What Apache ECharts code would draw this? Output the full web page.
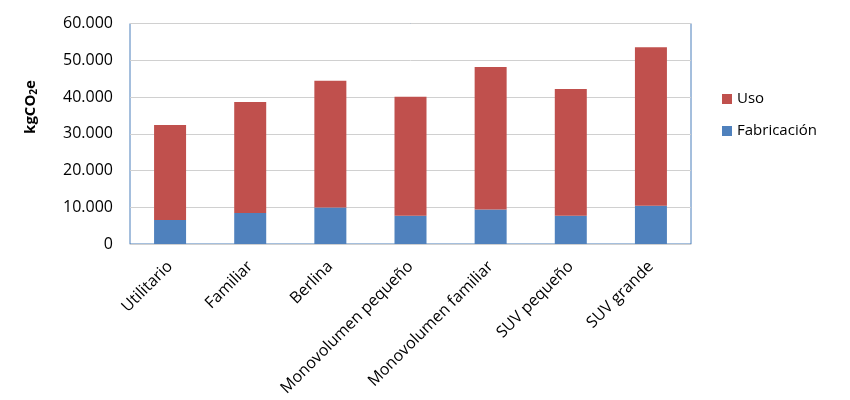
<!DOCTYPE html>
<html>
<head>
<meta charset="utf-8">
<script src="https://cdn.jsdelivr.net/npm/echarts@6/dist/echarts.min.js"></script>
<style>html,body{margin:0;padding:0;background:#fff}#c{width:850px;height:400px}</style>
</head>
<body>
<div id="c"></div>
<script>
const categories = ['Utilitario','Familiar','Berlina','Monovolumen pequeño','Monovolumen familiar','SUV pequeño','SUV grande'];
const fabricacion = [6520, 8420, 9950, 7690, 9410, 7690, 10410];
const uso = [25880, 30220, 34480, 32400, 38730, 34480, 43160];
const yTicks = [0, 10000, 20000, 30000, 40000, 50000, 60000];

const FONT = '"Open Sans", "Liberation Sans", sans-serif';
const chart = echarts.init(document.getElementById('c'));
function fmt(v){ return String(v).replace(/\B(?=(\d{3})+(?!\d))/g, '.'); }
chart.setOption({
  animation: false,
  grid: { left: 130, right: 159, top: 23.5, bottom: 156, show: true, borderColor: '#4A7EBB', borderWidth: 1 },
  legend: {
    orient: 'vertical', left: 722, top: 91, padding: 0,
    data: ['Uso','Fabricación'],
    icon: 'rect', itemWidth: 10, itemHeight: 10, itemGap: 16,
    textStyle: { fontFamily: FONT, fontSize: 15, color: '#000', lineHeight: 16 }
  },
  xAxis: {
    type: 'category', data: categories,
    axisLine: { lineStyle: { color: '#D0D0D0' } },
    axisTick: { show: false },
    axisLabel: { rotate: 45, fontFamily: FONT, fontSize: 16, color: '#000', margin: 20, interval: 0 }
  },
  yAxis: {
    type: 'value', min: yTicks[0], max: yTicks[yTicks.length-1], interval: yTicks[1]-yTicks[0],
    axisLine: { show: false }, axisTick: { show: false },
    splitLine: { lineStyle: { color: '#D0D0D0' } },
    axisLabel: { fontFamily: FONT, fontSize: 16, color: '#000', margin: 17, formatter: fmt }
  },
  graphic: [{
    type: 'text', x: 31, y: 107, rotation: Math.PI/2,
    style: {
      text: '{a|kgCO}{s|2}{a|e}', align: 'center', verticalAlign: 'middle',
      rich: {
        a: { fontFamily: FONT, fontSize: 15, fontWeight: 'bold', fill: '#000' },
        s: { fontFamily: FONT, fontSize: 10, fontWeight: 'bold', fill: '#000', padding: [6,0,0,0] }
      }
    }
  }],
  series: [
    { name: 'Fabricación', type: 'bar', stack: 't', data: fabricacion, barWidth: 32, itemStyle: { color: '#4F81BD' } },
    { name: 'Uso', type: 'bar', stack: 't', data: uso, barWidth: 32, itemStyle: { color: '#C0504D' } }
  ]
});
</script>
</body>
</html>
